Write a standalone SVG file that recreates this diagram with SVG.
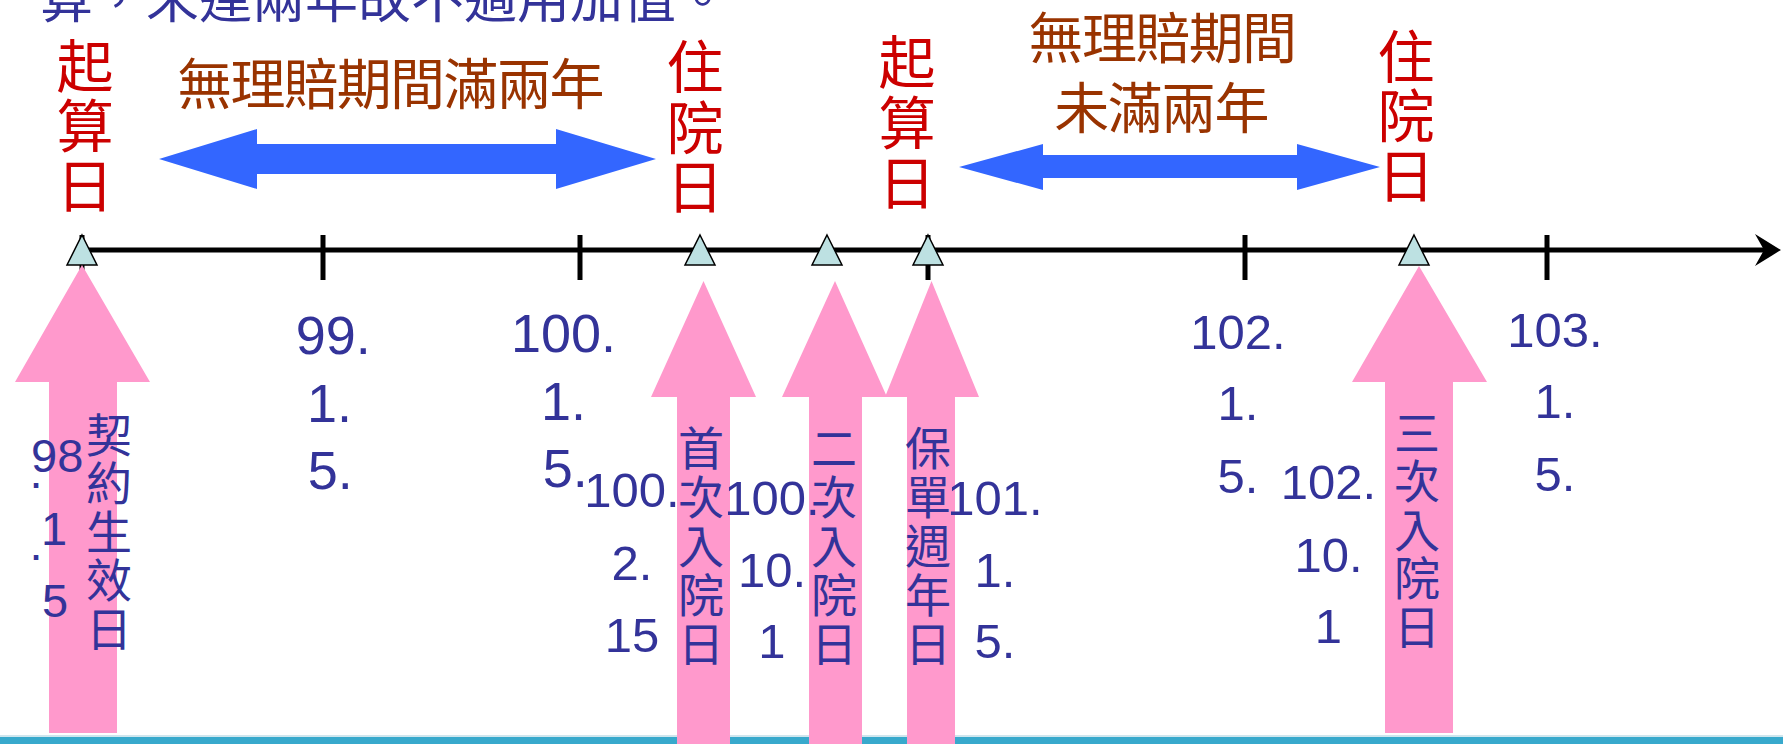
<svg xmlns="http://www.w3.org/2000/svg" width="1783" height="744" viewBox="0 0 1783 744">
<style>
.cjk{font-family:"Noto Sans CJK TC","Noto Sans CJK SC",sans-serif}
.num{font-family:"Liberation Sans",Arial,sans-serif;fill:#333399}
.n54{font-size:54px}
.n49{font-size:49px;text-anchor:middle}
.n47{font-size:47px}
.red{fill:#CC0000;font-size:57px;text-anchor:middle}
.brown{fill:#993300;font-size:55px;text-anchor:middle}
.lbl{fill:#333399;font-size:46px;text-anchor:middle}
.pink{fill:#FF99CC}
.tri{fill:#BDE1E2;stroke:#000;stroke-width:1.5}
.tick{stroke:#000;stroke-width:5}
.dbl{fill:#3366FF}
</style>
<rect width="1783" height="744" fill="#FFFFFF"/>
<rect x="0" y="735" width="1783" height="2" fill="#CFE6EE"/>
<rect x="0" y="737" width="1783" height="7" fill="#38A9CC"/>

<text class="cjk" x="40" y="18" font-size="53" fill="#333399">算，未達兩年故不適用加值。</text>

<g id="connectors">
  <line x1="82" y1="250" x2="1766" y2="250" stroke="#000" stroke-width="5"/>
  <polygon points="1781,250 1755,234 1764,250 1755,266" fill="#000"/>
  <line class="tick" x1="82" y1="235" x2="82" y2="280"/>
  <line class="tick" x1="323" y1="235" x2="323" y2="280"/>
  <line class="tick" x1="580" y1="235" x2="580" y2="280"/>
  <line class="tick" x1="928" y1="235" x2="928" y2="280"/>
  <line class="tick" x1="1245" y1="235" x2="1245" y2="280"/>
  <line class="tick" x1="1547" y1="235" x2="1547" y2="280"/>
  <polygon class="dbl" points="159,159 257,129 257,144 556,144 556,129 656,159 556,189 556,174 257,174 257,189"/>
  <polygon class="dbl" points="959,167 1043,144 1043,155 1297,155 1297,144 1380,167 1297,190 1297,178 1043,178 1043,190"/>
</g>

<g id="markers">
  <polygon class="tri" points="82,235 97,265 67,265"/>
  <polygon class="tri" points="700,235 715,265 685,265"/>
  <polygon class="tri" points="827,235 842,265 812,265"/>
  <polygon class="tri" points="928,235 943,265 913,265"/>
  <polygon class="tri" points="1414,235 1429,265 1399,265"/>
</g>

<g id="start1">
  <text class="cjk red"><tspan x="85" y="87">起</tspan><tspan x="85" y="147">算</tspan><tspan x="85" y="207">日</tspan></text>
</g>
<g id="hosp1">
  <text class="cjk red"><tspan x="695" y="88">住</tspan><tspan x="695" y="149">院</tspan><tspan x="695" y="208">日</tspan></text>
</g>
<g id="start2">
  <text class="cjk red"><tspan x="907" y="83">起</tspan><tspan x="907" y="144">算</tspan><tspan x="907" y="204">日</tspan></text>
</g>
<g id="hosp2">
  <text class="cjk red"><tspan x="1406" y="78">住</tspan><tspan x="1406" y="137">院</tspan><tspan x="1406" y="197">日</tspan></text>
</g>
<g id="period1">
  <text class="cjk brown" x="390" y="104" letter-spacing="-1.8">無理賠期間滿兩年</text>
</g>
<g id="period2">
  <text class="cjk brown" letter-spacing="-1.6"><tspan x="1162" y="58">無理賠期間</tspan><tspan x="1161" y="127.5">未滿兩年</tspan></text>
</g>

<g id="contract">
  <polygon class="pink" points="82,265 150,382 117,382 117,733 49,733 49,382 15,382"/>
  <text class="cjk lbl"><tspan x="109" y="451.5">契</tspan><tspan x="109" y="500">約</tspan><tspan x="109" y="548.5">生</tspan><tspan x="109" y="597">效</tspan><tspan x="109" y="645.5">日</tspan></text>
  <text class="num n47"><tspan x="31" y="472">98</tspan><tspan x="29.4" y="487.5">.</tspan><tspan x="40.9" y="545">1</tspan><tspan x="29.4" y="559.5">.</tspan><tspan x="42" y="617">5</tspan></text>
</g>

<g id="date99">
  <text class="num n54"><tspan x="295.7" y="354">99.</tspan><tspan x="307" y="422">1.</tspan><tspan x="307.7" y="489">5.</tspan></text>
</g>
<g id="date100">
  <text class="num n54"><tspan x="511" y="352">100.</tspan><tspan x="541" y="420">1.</tspan><tspan x="542.7" y="487">5.</tspan></text>
</g>

<g id="first">
  <polygon class="pink" points="703.5,281 756,397 730,397 730,744 677,744 677,397 651,397"/>
  <text class="cjk lbl"><tspan x="701" y="464.5">首</tspan><tspan x="701" y="513.5">次</tspan><tspan x="701" y="562.5">入</tspan><tspan x="701" y="611.5">院</tspan><tspan x="701" y="660.5">日</tspan></text>
  <text class="num n49"><tspan x="632" y="507">100.</tspan><tspan x="632" y="579.5">2.</tspan><tspan x="632" y="652">15</tspan></text>
</g>

<g id="second">
  <polygon class="pink" points="835,281 887,397 862,397 862,744 809,744 809,397 782,397"/>
  <text class="cjk lbl"><tspan x="834" y="464.5">二</tspan><tspan x="834" y="513.5">次</tspan><tspan x="834" y="562.5">入</tspan><tspan x="834" y="611.5">院</tspan><tspan x="834" y="660.5">日</tspan></text>
  <text class="num n49"><tspan x="772" y="515">100.</tspan><tspan x="772" y="587">10.</tspan><tspan x="772" y="658">1</tspan></text>
</g>

<g id="anniversary">
  <polygon class="pink" points="931.5,281 979,397 955,397 955,744 907,744 907,397 885,397"/>
  <text class="cjk lbl"><tspan x="928" y="464.5">保</tspan><tspan x="928" y="513.5">單</tspan><tspan x="928" y="562.5">週</tspan><tspan x="928" y="611.5">年</tspan><tspan x="928" y="660.5">日</tspan></text>
  <text class="num n49"><tspan x="995" y="515">101.</tspan><tspan x="995" y="587">1.</tspan><tspan x="995" y="658">5.</tspan></text>
</g>

<g id="date102">
  <text class="num n49"><tspan x="1238" y="349">102.</tspan><tspan x="1238" y="420">1.</tspan><tspan x="1238" y="493">5.</tspan></text>
</g>

<g id="third">
  <polygon class="pink" points="1419,266 1487,382 1453,382 1453,733 1385,733 1385,382 1352,382"/>
  <text class="cjk lbl"><tspan x="1417" y="449.5">三</tspan><tspan x="1417" y="498">次</tspan><tspan x="1417" y="546.5">入</tspan><tspan x="1417" y="595">院</tspan><tspan x="1417" y="643.5">日</tspan></text>
  <text class="num n49"><tspan x="1328.5" y="499">102.</tspan><tspan x="1328.5" y="572">10.</tspan><tspan x="1328.5" y="643">1</tspan></text>
</g>

<g id="date103">
  <text class="num n49"><tspan x="1555" y="347">103.</tspan><tspan x="1555" y="418">1.</tspan><tspan x="1555" y="491">5.</tspan></text>
</g>
</svg>
